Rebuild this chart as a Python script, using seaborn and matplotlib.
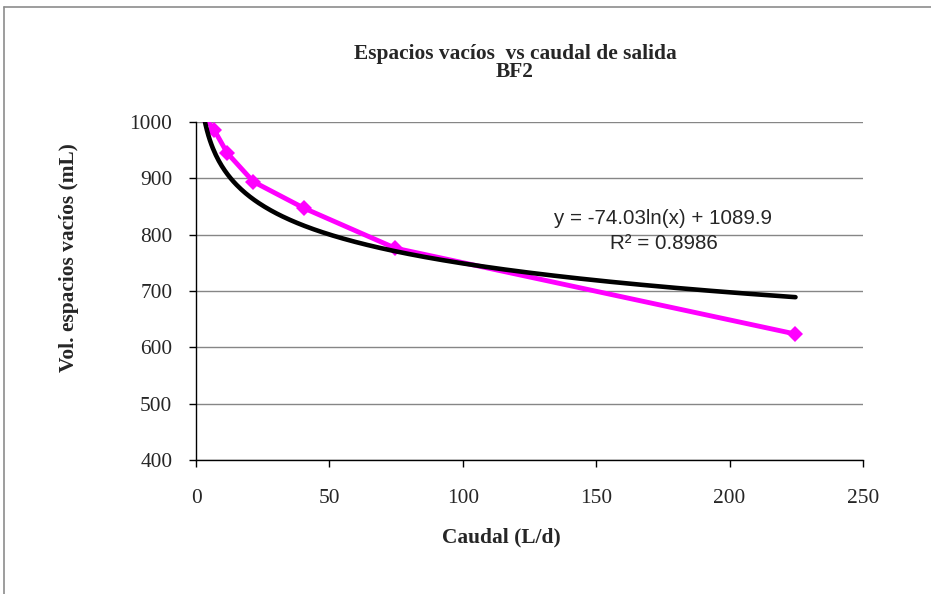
import numpy as np
import pandas as pd
import seaborn as sns
import matplotlib.pyplot as plt
from matplotlib.lines import Line2D

# datos
caudal = [3.0, 6.8, 11.7, 21.5, 40.5, 74.7, 224.7]
vol_vacios = [1010, 986, 945, 894, 847, 776, 623.6]

# linea de tendencia logaritmica (coeficientes del grafico)
trend_a = -74.03
trend_b = 1089.9
r2 = 0.8986

sns.set_style("white")
plt.rcParams['font.family'] = ['Liberation Serif', 'DejaVu Serif']

fig = plt.figure(figsize=(9.31, 5.94), dpi=100)
W, H = 931, 594
ax = fig.add_axes([196 / W, 1 - 460 / H, (863 - 196) / W, (460 - 122) / H])

df = pd.DataFrame({"caudal": caudal, "vol": vol_vacios})
sns.lineplot(data=df, x="caudal", y="vol", ax=ax, color="#FF00FF", linewidth=3.5,
             marker="D", markersize=8, markeredgewidth=0, sort=False)

xt = np.linspace(min(caudal), max(caudal), 400)
trend = pd.DataFrame({"x": xt, "y": trend_a * np.log(xt) + trend_b})
sns.lineplot(data=trend, x="x", y="y", ax=ax, color="black", linewidth=3.3)

ax.set_xlim(0, 250)
ax.set_ylim(400, 1000)
ax.set_xticks(range(0, 251, 50))
ax.set_yticks(range(400, 1001, 100))
ax.yaxis.grid(True, color="#868686", linewidth=1)
ax.xaxis.grid(False)
for s in ["top", "right"]:
    ax.spines[s].set_visible(False)
for s in ["left", "bottom"]:
    ax.spines[s].set_color("black")
    ax.spines[s].set_linewidth(1)
ax.tick_params(axis="both", direction="out", length=5, width=1, color="black",
               labelsize=15.4, left=True, bottom=True)
ax.tick_params(axis="y", pad=12)
ax.tick_params(axis="x", pad=16)
ax.set_xlabel("")
ax.set_ylabel("")

fig.text(515 / W, 1 - 63 / H, "Espacios vacíos  vs caudal de salida\nBF2", ha="center", va="center",
         fontsize=15.4, fontweight="bold", linespacing=0.9, multialignment="center")
fig.text(501 / W, 1 - 537 / H, "Caudal (L/d)", ha="center", va="center", fontsize=15.4, fontweight="bold")
fig.text(69 / W, 1 - 258 / H, "Vol. espacios vacíos (mL)", ha="center", va="center", rotation=90,
         fontsize=15.4, fontweight="bold")

eq_font = ["Liberation Sans", "DejaVu Sans"]
fig.text(663 / W, 1 - 219 / H, "y = -74.03ln(x) + 1089.9", ha="center", va="center",
         fontsize=14.8, family=eq_font)
fig.text(664 / W, 1 - 243 / H, "R² = 0.8986", ha="center", va="center",
         fontsize=14.8, family=eq_font)

# marco del area del grafico (parcialmente visible)
fig.add_artist(Line2D([4 / W, 1], [1 - 7 / H, 1 - 7 / H], color="#8c8c8c", linewidth=1.2))
fig.add_artist(Line2D([4 / W, 4 / W], [0, 1 - 7 / H], color="#8c8c8c", linewidth=1.2))

fig.savefig("out.png", dpi=100)
